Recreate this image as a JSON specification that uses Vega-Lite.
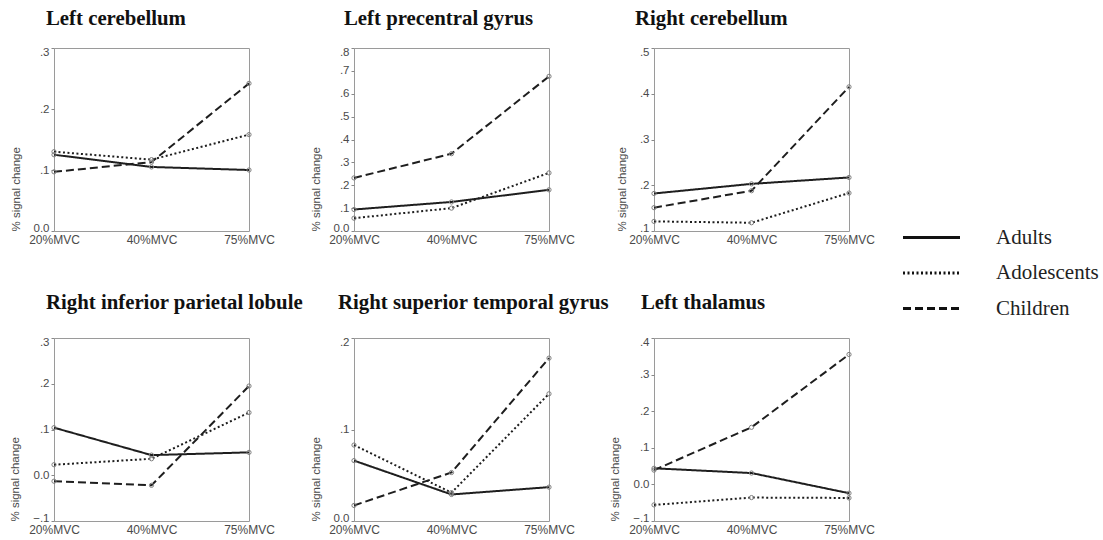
{
  "$schema": "https://vega.github.io/schema/vega-lite/v6.json",
  "background": "white",
  "padding": {"left": 9, "top": 7, "right": 5, "bottom": 5},
  "datasets": {
    "d": [
      {"region": "Left cerebellum", "group": "Adults", "level": "20%MVC", "value": 0.125},
      {"region": "Left cerebellum", "group": "Adults", "level": "40%MVC", "value": 0.105},
      {"region": "Left cerebellum", "group": "Adults", "level": "75%MVC", "value": 0.100},
      {"region": "Left cerebellum", "group": "Adolescents", "level": "20%MVC", "value": 0.130},
      {"region": "Left cerebellum", "group": "Adolescents", "level": "40%MVC", "value": 0.117},
      {"region": "Left cerebellum", "group": "Adolescents", "level": "75%MVC", "value": 0.158},
      {"region": "Left cerebellum", "group": "Children", "level": "20%MVC", "value": 0.097},
      {"region": "Left cerebellum", "group": "Children", "level": "40%MVC", "value": 0.113},
      {"region": "Left cerebellum", "group": "Children", "level": "75%MVC", "value": 0.242},
      {"region": "Left precentral gyrus", "group": "Adults", "level": "20%MVC", "value": 0.094},
      {"region": "Left precentral gyrus", "group": "Adults", "level": "40%MVC", "value": 0.127},
      {"region": "Left precentral gyrus", "group": "Adults", "level": "75%MVC", "value": 0.180},
      {"region": "Left precentral gyrus", "group": "Adolescents", "level": "20%MVC", "value": 0.056},
      {"region": "Left precentral gyrus", "group": "Adolescents", "level": "40%MVC", "value": 0.100},
      {"region": "Left precentral gyrus", "group": "Adolescents", "level": "75%MVC", "value": 0.254},
      {"region": "Left precentral gyrus", "group": "Children", "level": "20%MVC", "value": 0.232},
      {"region": "Left precentral gyrus", "group": "Children", "level": "40%MVC", "value": 0.338},
      {"region": "Left precentral gyrus", "group": "Children", "level": "75%MVC", "value": 0.676},
      {"region": "Right cerebellum", "group": "Adults", "level": "20%MVC", "value": 0.182},
      {"region": "Right cerebellum", "group": "Adults", "level": "40%MVC", "value": 0.203},
      {"region": "Right cerebellum", "group": "Adults", "level": "75%MVC", "value": 0.217},
      {"region": "Right cerebellum", "group": "Adolescents", "level": "20%MVC", "value": 0.121},
      {"region": "Right cerebellum", "group": "Adolescents", "level": "40%MVC", "value": 0.118},
      {"region": "Right cerebellum", "group": "Adolescents", "level": "75%MVC", "value": 0.183},
      {"region": "Right cerebellum", "group": "Children", "level": "20%MVC", "value": 0.151},
      {"region": "Right cerebellum", "group": "Children", "level": "40%MVC", "value": 0.188},
      {"region": "Right cerebellum", "group": "Children", "level": "75%MVC", "value": 0.415},
      {"region": "Right inferior parietal lobule", "group": "Adults", "level": "20%MVC", "value": 0.104},
      {"region": "Right inferior parietal lobule", "group": "Adults", "level": "40%MVC", "value": 0.044},
      {"region": "Right inferior parietal lobule", "group": "Adults", "level": "75%MVC", "value": 0.050},
      {"region": "Right inferior parietal lobule", "group": "Adolescents", "level": "20%MVC", "value": 0.023},
      {"region": "Right inferior parietal lobule", "group": "Adolescents", "level": "40%MVC", "value": 0.036},
      {"region": "Right inferior parietal lobule", "group": "Adolescents", "level": "75%MVC", "value": 0.137},
      {"region": "Right inferior parietal lobule", "group": "Children", "level": "20%MVC", "value": -0.013},
      {"region": "Right inferior parietal lobule", "group": "Children", "level": "40%MVC", "value": -0.022},
      {"region": "Right inferior parietal lobule", "group": "Children", "level": "75%MVC", "value": 0.195},
      {"region": "Right superior temporal gyrus", "group": "Adults", "level": "20%MVC", "value": 0.066},
      {"region": "Right superior temporal gyrus", "group": "Adults", "level": "40%MVC", "value": 0.029},
      {"region": "Right superior temporal gyrus", "group": "Adults", "level": "75%MVC", "value": 0.037},
      {"region": "Right superior temporal gyrus", "group": "Adolescents", "level": "20%MVC", "value": 0.083},
      {"region": "Right superior temporal gyrus", "group": "Adolescents", "level": "40%MVC", "value": 0.031},
      {"region": "Right superior temporal gyrus", "group": "Adolescents", "level": "75%MVC", "value": 0.139},
      {"region": "Right superior temporal gyrus", "group": "Children", "level": "20%MVC", "value": 0.017},
      {"region": "Right superior temporal gyrus", "group": "Children", "level": "40%MVC", "value": 0.053},
      {"region": "Right superior temporal gyrus", "group": "Children", "level": "75%MVC", "value": 0.178},
      {"region": "Left thalamus", "group": "Adults", "level": "20%MVC", "value": 0.044},
      {"region": "Left thalamus", "group": "Adults", "level": "40%MVC", "value": 0.031},
      {"region": "Left thalamus", "group": "Adults", "level": "75%MVC", "value": -0.024},
      {"region": "Left thalamus", "group": "Adolescents", "level": "20%MVC", "value": -0.056},
      {"region": "Left thalamus", "group": "Adolescents", "level": "40%MVC", "value": -0.036},
      {"region": "Left thalamus", "group": "Adolescents", "level": "75%MVC", "value": -0.037},
      {"region": "Left thalamus", "group": "Children", "level": "20%MVC", "value": 0.039},
      {"region": "Left thalamus", "group": "Children", "level": "40%MVC", "value": 0.156},
      {"region": "Left thalamus", "group": "Children", "level": "75%MVC", "value": 0.355}
    ]
  },
  "data": {"name": "d"},
  "bounds": "flush",
  "columns": 3,
  "spacing": {"row": 107, "column": 105},
  "concat": [
    {
      "title": {"text": "Left cerebellum", "dx": -8, "offset": 16},
      "transform": [{"filter": "datum.region === 'Left cerebellum'"}],
      "width": 195, "height": 183,
      "encoding": {
        "x": {"field": "level", "type": "ordinal", "scale": {"type": "point", "padding": 0, "domain": ["20%MVC", "40%MVC", "75%MVC"]}},
        "y": {"field": "value", "type": "quantitative", "title": "% signal change", "scale": {"domain": [0, 0.3], "nice": false, "zero": false}, "axis": {"values": [0, 0.1, 0.2, 0.3]}}
      },
      "layer": [
        {"mark": {"type": "line", "strokeWidth": 2, "color": "#1e1e1e"}, "encoding": {"strokeDash": {"field": "group", "type": "nominal", "scale": {"domain": ["Adults", "Adolescents", "Children"], "range": [[1, 0], [2, 2.5], [8, 4]]}}}},
        {"mark": {"type": "point", "shape": "circle", "filled": false, "size": 18, "color": "#808080", "strokeWidth": 1, "opacity": 1}}
      ]
    },
    {
      "title": {"text": "Left precentral gyrus", "dx": -10, "offset": 16},
      "transform": [{"filter": "datum.region === 'Left precentral gyrus'"}],
      "width": 195, "height": 183,
      "encoding": {
        "x": {"field": "level", "type": "ordinal", "scale": {"type": "point", "padding": 0, "domain": ["20%MVC", "40%MVC", "75%MVC"]}},
        "y": {"field": "value", "type": "quantitative", "title": "% signal change", "scale": {"domain": [0, 0.8], "nice": false, "zero": false}, "axis": {"values": [0, 0.1, 0.2, 0.3, 0.4, 0.5, 0.6, 0.7, 0.8]}}
      },
      "layer": [
        {"mark": {"type": "line", "strokeWidth": 2, "color": "#1e1e1e"}, "encoding": {"strokeDash": {"field": "group", "type": "nominal", "scale": {"domain": ["Adults", "Adolescents", "Children"], "range": [[1, 0], [2, 2.5], [8, 4]]}}}},
        {"mark": {"type": "point", "shape": "circle", "filled": false, "size": 18, "color": "#808080", "strokeWidth": 1, "opacity": 1}}
      ]
    },
    {
      "title": {"text": "Right cerebellum", "dx": -19, "offset": 16},
      "transform": [{"filter": "datum.region === 'Right cerebellum'"}],
      "width": 195, "height": 183,
      "encoding": {
        "x": {"field": "level", "type": "ordinal", "scale": {"type": "point", "padding": 0, "domain": ["20%MVC", "40%MVC", "75%MVC"]}},
        "y": {"field": "value", "type": "quantitative", "title": "% signal change", "scale": {"domain": [0.1, 0.5], "nice": false, "zero": false}, "axis": {"values": [0.1, 0.2, 0.3, 0.4, 0.5]}}
      },
      "layer": [
        {"mark": {"type": "line", "strokeWidth": 2, "color": "#1e1e1e"}, "encoding": {"strokeDash": {"field": "group", "type": "nominal", "scale": {"domain": ["Adults", "Adolescents", "Children"], "range": [[1, 0], [2, 2.5], [8, 4]]}}}},
        {"mark": {"type": "point", "shape": "circle", "filled": false, "size": 18, "color": "#808080", "strokeWidth": 1, "opacity": 1}}
      ]
    },
    {
      "title": {"text": "Right inferior parietal lobule", "dx": -8, "offset": 22},
      "transform": [{"filter": "datum.region === 'Right inferior parietal lobule'"}],
      "width": 195, "height": 183,
      "encoding": {
        "x": {"field": "level", "type": "ordinal", "scale": {"type": "point", "padding": 0, "domain": ["20%MVC", "40%MVC", "75%MVC"]}},
        "y": {"field": "value", "type": "quantitative", "title": "% signal change", "scale": {"domain": [-0.1, 0.3], "nice": false, "zero": false}, "axis": {"values": [-0.1, 0, 0.1, 0.2, 0.3]}}
      },
      "layer": [
        {"mark": {"type": "line", "strokeWidth": 2, "color": "#1e1e1e"}, "encoding": {"strokeDash": {"field": "group", "type": "nominal", "scale": {"domain": ["Adults", "Adolescents", "Children"], "range": [[1, 0], [2, 2.5], [8, 4]]}}}},
        {"mark": {"type": "point", "shape": "circle", "filled": false, "size": 18, "color": "#808080", "strokeWidth": 1, "opacity": 1}}
      ]
    },
    {
      "title": {"text": "Right superior temporal gyrus", "dx": -16, "offset": 22},
      "transform": [{"filter": "datum.region === 'Right superior temporal gyrus'"}],
      "width": 195, "height": 183,
      "encoding": {
        "x": {"field": "level", "type": "ordinal", "scale": {"type": "point", "padding": 0, "domain": ["20%MVC", "40%MVC", "75%MVC"]}},
        "y": {"field": "value", "type": "quantitative", "title": "% signal change", "scale": {"domain": [0, 0.2], "nice": false, "zero": false}, "axis": {"values": [0, 0.1, 0.2]}}
      },
      "layer": [
        {"mark": {"type": "line", "strokeWidth": 2, "color": "#1e1e1e"}, "encoding": {"strokeDash": {"field": "group", "type": "nominal", "scale": {"domain": ["Adults", "Adolescents", "Children"], "range": [[1, 0], [2, 2.5], [8, 4]]}}}},
        {"mark": {"type": "point", "shape": "circle", "filled": false, "size": 18, "color": "#808080", "strokeWidth": 1, "opacity": 1}}
      ]
    },
    {
      "title": {"text": "Left thalamus", "dx": -13, "offset": 22},
      "transform": [{"filter": "datum.region === 'Left thalamus'"}],
      "width": 195, "height": 183,
      "encoding": {
        "x": {"field": "level", "type": "ordinal", "scale": {"type": "point", "padding": 0, "domain": ["20%MVC", "40%MVC", "75%MVC"]}},
        "y": {"field": "value", "type": "quantitative", "title": "% signal change", "scale": {"domain": [-0.1, 0.4], "nice": false, "zero": false}, "axis": {"values": [-0.1, 0, 0.1, 0.2, 0.3, 0.4]}}
      },
      "layer": [
        {"mark": {"type": "line", "strokeWidth": 2, "color": "#1e1e1e"}, "encoding": {"strokeDash": {"field": "group", "type": "nominal", "scale": {"domain": ["Adults", "Adolescents", "Children"], "range": [[1, 0], [2, 2.5], [8, 4]]}}}},
        {"mark": {"type": "point", "shape": "circle", "filled": false, "size": 18, "color": "#808080", "strokeWidth": 1, "opacity": 1}}
      ]
    }
  ],
  "config": {
    "view": {"stroke": "#9a9a9a", "strokeWidth": 1},
    "title": {"font": "Liberation Serif", "fontSize": 20.8, "fontWeight": "bold", "color": "#111", "anchor": "start", "frame": "group", "baseline": "alphabetic"},
    "axisX": {"title": null, "labelAngle": 0, "grid": false, "domain": false, "ticks": false, "labelFont": "Liberation Sans", "labelFontSize": 12, "labelColor": "#4a4a4a", "labelPadding": 3},
    "axisY": {"grid": false, "domain": false, "ticks": true, "tickSize": 3, "tickColor": "#888", "labelFont": "Liberation Sans", "labelFontSize": 11.5, "labelColor": "#4a4a4a", "labelPadding": 2, "labelFlush": true, "labelFlushOffset": 2, "labelExpr": "datum.value == 0 ? '0.0' : replace(format(datum.value, '.1f'), '0.', '.')", "titleFont": "Liberation Sans", "titleFontSize": 11.5, "titleFontWeight": "normal", "titleColor": "#4a4a4a", "titleAnchor": "start", "titlePadding": 12},
    "legend": {"orient": "none", "legendX": 867, "legendY": 179, "title": null, "symbolType": "M-4,0H4", "symbolSize": 203, "symbolStrokeWidth": 3, "symbolStrokeColor": "#111", "symbolFillColor": "transparent", "labelFont": "Liberation Serif", "labelFontSize": 21, "labelColor": "#222", "labelOffset": 54, "rowPadding": 13.5}
  }
}
